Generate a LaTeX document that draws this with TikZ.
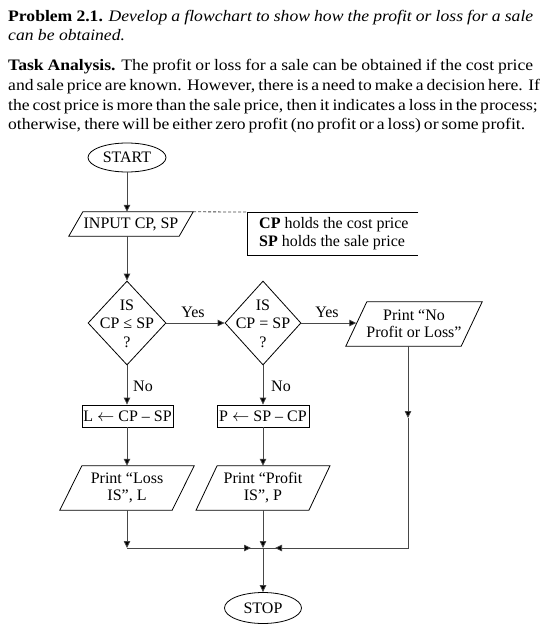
\documentclass[tikz,border=0pt]{standalone}
\usepackage{fontspec}
\setmainfont{Liberation Serif}
\newfontfamily\hdrfont[FakeStretch=1.1]{Liberation Serif}
\usetikzlibrary{shapes.geometric,arrows.meta}
\newcommand{\paraout}[2]{%
  \draw[shapeline] ([xshift=#2]#1.north west) -- ([xshift=#2]#1.north east) -- ([xshift=-#2]#1.south east) -- ([xshift=-#2]#1.south west) -- cycle;}
\begin{document}
\begin{tikzpicture}[x=1pt,y=-1pt,
  conn/.style={draw=black!72, line width=0.8pt},
  arr/.style={conn,-{Triangle[length=7pt,width=6.5pt,fill=black]}},
  shapeline/.style={draw=black, line width=0.8pt},
  hline/.style={anchor=base west, inner sep=0pt, font=\hdrfont\fontsize{16}{18}\selectfont},
  lbl/.style={inner sep=0pt, font=\fontsize{16}{18}\selectfont},
  dtext/.style={inner sep=0pt, align=center, font=\fontsize{16}{18.5}\selectfont},
  term/.style={ellipse, shapeline, minimum width=77pt, minimum height=30pt, inner sep=0pt, font=\fontsize{16}{18}\selectfont},
  iobox/.style={rectangle, inner sep=0pt, align=center, minimum height=44pt, font=\fontsize{16}{17}\selectfont},
  procbox/.style={rectangle, shapeline, inner sep=0pt, minimum height=22pt, font=\fontsize{16}{18}\selectfont},
  decision/.style={diamond, shapeline, inner sep=0pt, minimum height=84pt}
]
\useasboundingbox (0,0) rectangle (541,629);

% header text
\node[hline] (h1) at (8,21) {\makebox[525pt][s]{\textbf{Problem 2.1.} \textit{Develop a flowchart to show how the profit or loss for a sale}}};
\node[hline] (h2) at (8,40.5) {\textit{can be obtained.}};
\node[hline] (h3) at (8,70) {\makebox[525pt][s]{\textbf{Task Analysis.} The profit or loss for a sale can be obtained if the cost price}};
\node[hline] (h4) at (8,90) {\makebox[525pt][s]{and sale price are known. However, there is a need to make a decision here. If}};
\node[hline] (h5) at (8,110) {\makebox[525pt][s]{the cost price is more than the sale price, then it indicates a loss in the process;}};
\node[hline] (h6) at (8,129.5) {\makebox[517pt][s]{otherwise, there will be either zero profit (no profit or a loss) or some profit.}};

% terminals
\node[term, minimum width=78pt, minimum height=29pt] (start) at (127,157.5) {START};
\node[term, minimum height=31pt] (stop) at (263,608) {STOP};

% input
\node[iobox, minimum width=110pt, minimum height=24pt] (input) at (131,224) {INPUT CP, SP};
\paraout{input}{7pt}

% note
\node[inner sep=0pt, anchor=north west, minimum width=171pt, minimum height=43pt] (note) at (247,212) {};
\draw[shapeline] (note.north east) -- (note.north west) -- (note.south west) -- (note.south east);
\node[lbl, align=left, anchor=west] (notetext) at (259,233.5) {\textbf{CP} holds the cost price\\\textbf{SP} holds the sale price};
\draw[conn, dash pattern=on 3pt off 2pt] ([xshift=7pt]input.north east) -- (note.north west);

% decisions
\node[decision, minimum width=78pt] (d1) at (127,323) {};
\node[dtext] (d1t) at (127,323.5) {IS\\CP ≤ SP\\?};
\node[decision, minimum width=76pt] (d2) at (263,323) {};
\node[dtext] (d2t) at (263,323.5) {IS\\CP = SP\\?};

% print no profit or loss
\node[iobox, minimum width=115pt] (npl) at (414,324) {Print “No\\Profit or Loss”};
\paraout{npl}{10.5pt}

% process boxes
\node[procbox, minimum width=91pt] (lbox) at (127.5,416) {L $\leftarrow$ CP – SP};
\node[procbox, minimum width=92pt] (pbox) at (263,416) {P $\leftarrow$ SP – CP};

% print boxes
\node[iobox, minimum width=112pt] (loss) at (127,488) {Print “Loss\\IS”, L};
\paraout{loss}{11pt}
\node[iobox, minimum width=112.5pt] (profit) at (263,488) {Print “Profit\\IS”, P};
\paraout{profit}{10.5pt}

% labels
\node[lbl] (y1) at (193,312) {Yes};
\node[lbl] (y2) at (327,312) {Yes};
\node[lbl] (n1) at (143,386) {No};
\node[lbl] (n2) at (281,386) {No};

% coordinates
\coordinate (j) at (263,548);
\coordinate (cl) at (127,548);
\coordinate (cr) at (408,548);
\coordinate (al) at (251,548);
\coordinate (ar) at (275,548);
\coordinate (nb) at ([xshift=-6pt]npl.south);
\coordinate (nm) at (408,418);

% connectors
\draw[arr] (start.south) -- (start.south |- input.north);
\draw[arr] (d1.north |- input.south) -- (d1.north);
\draw[arr] (d1.east) -- (d2.west);
\draw[arr] (d2.east) -- (d2.east -| npl.west);
\draw[arr] (d1.south) -- (d1.south |- lbox.north);
\draw[arr] (d2.south) -- (pbox.north);
\draw[arr] (lbox.south -| loss.north) -- (loss.north);
\draw[arr] (pbox.south) -- (profit.north);
\draw[arr] (loss.south) -- (cl);
\draw[conn] (cl) -- (j);
\draw[arr] (cl) -- (al);
\draw[arr] (profit.south) -- (j);
\draw[arr] (nb) -- (nm);
\draw[conn] (nm) -- (cr) -- (j);
\draw[arr] (cr) -- (ar);
\draw[arr] (j) -- (stop.north);
\end{tikzpicture}
\end{document}
